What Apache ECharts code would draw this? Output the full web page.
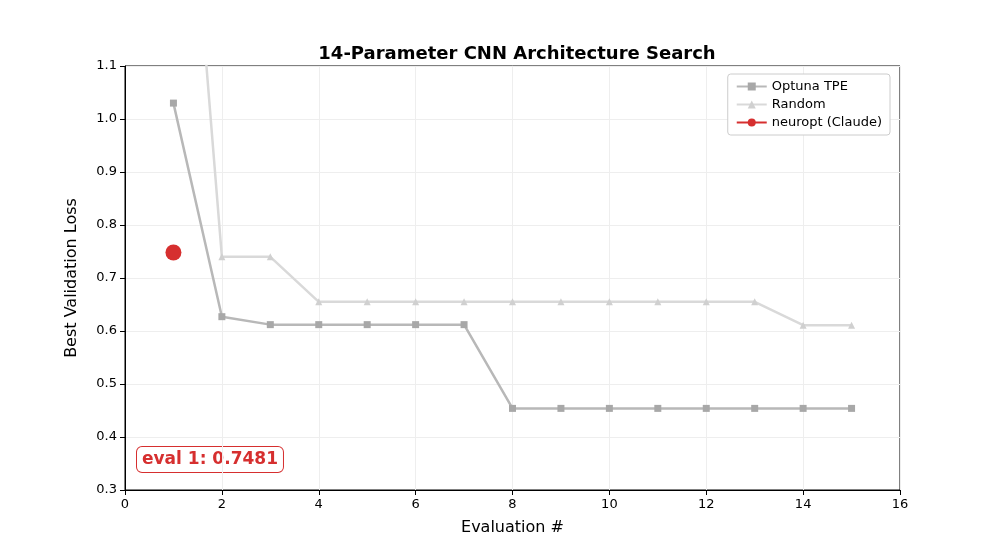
<!DOCTYPE html>
<html><head><meta charset="utf-8">
<script src="https://cdn.jsdelivr.net/npm/echarts@6/dist/echarts.min.js"></script>
<style>html,body{margin:0;padding:0;background:#fff}#c{width:1000px;height:550px}</style>
</head><body><div id="c"></div>
<script>
const evals = [1,2,3,4,5,6,7,8,9,10,11,12,13,14,15];
const optunaTPE = [1.03,0.627,0.612,0.612,0.612,0.612,0.612,0.454,0.454,0.454,0.454,0.454,0.454,0.454,0.454];
const randomSearch = [1.87,0.74,0.74,0.655,0.655,0.655,0.655,0.655,0.655,0.655,0.655,0.655,0.655,0.611,0.611];
const neuropt = [[1,0.7481]];
const xTicks = [0,2,4,6,8,10,12,14,16];
const yTicks = [0.3,0.4,0.5,0.6,0.7,0.8,0.9,1.0,1.1];
const font = 'DejaVu Sans';
const chart = echarts.init(document.getElementById('c'));
const zip = a => a.map((v,i)=>[evals[i],v]);
chart.setOption({
  animation:false,
  textStyle:{fontFamily:font},
  title:{text:'14-Parameter CNN Architecture Search',left:512,top:40,textAlign:'center',textStyle:{fontSize:18,fontWeight:'bold',color:'#000',fontFamily:font}},
  grid:{left:125,right:100,top:66,bottom:60,show:true,borderColor:'#000',borderWidth:1},
  legend:{right:110,top:74,orient:'vertical',backgroundColor:'#fff',borderColor:'#ccc',borderWidth:1,borderRadius:3,padding:[6,8],itemGap:5,itemWidth:30,itemHeight:10,textStyle:{fontSize:13,color:'#000'},
    data:['Optuna TPE','Random','neuropt (Claude)']},
  xAxis:{type:'value',min:0,max:16,interval:2,name:'Evaluation #',nameLocation:'middle',nameGap:30,nameTextStyle:{fontSize:16,color:'#000'},
    axisLine:{lineStyle:{color:'#000'}},axisTick:{lineStyle:{color:'#000'}},axisLabel:{color:'#000',fontSize:13,formatter:v=>xTicks.includes(v)?String(v):''},
    splitLine:{show:true,lineStyle:{color:'#eee'}}},
  yAxis:{type:'value',min:0.3,max:1.1,interval:0.1,name:'Best Validation Loss',nameLocation:'middle',nameGap:45,nameTextStyle:{fontSize:16,color:'#000'},
    axisLine:{show:true,lineStyle:{color:'#000'}},axisTick:{show:true,lineStyle:{color:'#000'}},axisLabel:{color:'#000',fontSize:13,formatter:v=>v.toFixed(1)},
    splitLine:{show:true,lineStyle:{color:'#eee'}}},
  series:[
    {name:'Optuna TPE',type:'line',data:zip(optunaTPE),symbol:'rect',symbolSize:7,clip:true,
      lineStyle:{color:'#b8b8b8',width:2.5},itemStyle:{color:'#a8a8a8'}},
    {name:'Random',type:'line',data:zip(randomSearch),symbol:'triangle',symbolSize:7,clip:true,
      lineStyle:{color:'#d9d9d9',width:2.5},itemStyle:{color:'#d0d0d0'}},
    {name:'neuropt (Claude)',type:'line',data:neuropt,symbol:'circle',symbolSize:16,clip:true,
      lineStyle:{color:'#d62f2f',width:3.5},itemStyle:{color:'#d62f2f'}}
  ],
  graphic:[{type:'text',left:136,top:446,style:{text:'eval 1: 0.7481',fill:'#d62f2f',font:'bold 17px DejaVu Sans',
    backgroundColor:'#fff',borderColor:'#d62f2f',borderWidth:1,borderRadius:5,padding:[4,5]}}]
});
</script></body></html>
